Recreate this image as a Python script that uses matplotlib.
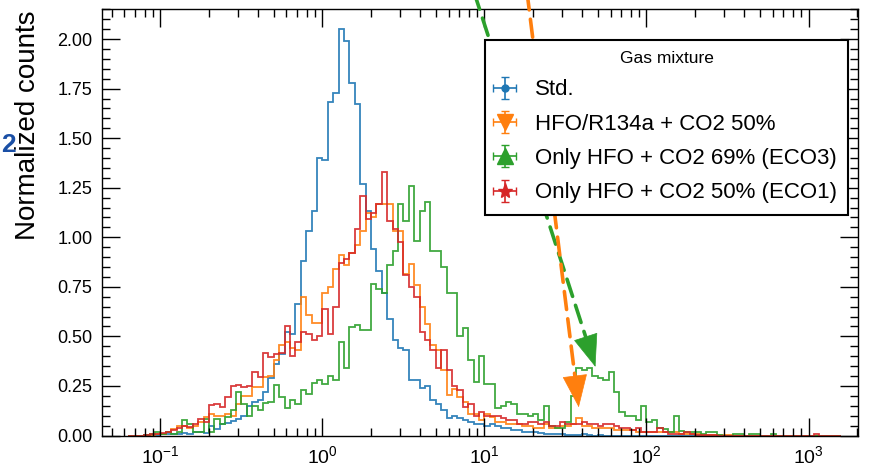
import numpy as np
import matplotlib
matplotlib.use("Agg")
import matplotlib.pyplot as plt
from matplotlib.ticker import LogLocator, LogFormatterSciNotation, MultipleLocator

# --- datos: histogramas normalizados, 30 bins por decada, primer borde 10^(-36/30) ---
BINS_PER_DECADE = 30
FIRST_EDGE_K = -36

std = [
    0, 0, 0, 0.005, 0.005, 0.005, 0.01, 0.01, 0.01, 0.01,
    0.015, 0.01, 0.02, 0.02, 0.015, 0.05, 0.035, 0.06, 0.065, 0.075,
    0.085, 0.10, 0.15, 0.17, 0.18, 0.22, 0.29, 0.36, 0.41, 0.52,
    0.51, 0.665, 0.88, 1.03, 1.13, 1.40, 1.39, 1.68, 1.73, 2.05,
    1.99, 1.78, 1.67, 1.27, 1.13, 0.94, 0.83, 0.72, 0.59, 0.48,
    0.44, 0.43, 0.28, 0.28, 0.24, 0.25, 0.18, 0.16, 0.13, 0.09,
    0.10, 0.09, 0.08, 0.07, 0.06, 0.06, 0.05, 0.06, 0.05, 0.04,
    0.04, 0.03, 0.03, 0.02, 0.02, 0.02, 0.015, 0.01, 0.01, 0.01,
    0.01, 0.005, 0.005, 0.005, 0.01, 0.005, 0, 0.005, 0, 0,
    0, 0, 0, 0, 0, 0, 0, 0, 0, 0,
    0, 0, 0, 0, 0, 0, 0, 0, 0, 0,
    0, 0, 0, 0, 0, 0, 0, 0, 0, 0,
    0, 0, 0, 0, 0, 0, 0, 0, 0, 0,
    0, 0,
]

hfo_r134a = [
    0, 0, 0, 0, 0.005, 0.01, 0.01, 0.02, 0.035, 0.05,
    0.05, 0.04, 0.05, 0.07, 0.095, 0.11, 0.10, 0.10, 0.11, 0.10,
    0.16, 0.20, 0.20, 0.245, 0.245, 0.295, 0.30, 0.38, 0.455, 0.47,
    0.44, 0.43, 0.70, 0.61, 0.57, 0.57, 0.72, 0.75, 0.84, 0.91,
    0.86, 0.92, 0.96, 1.03, 1.12, 1.10, 1.17, 1.17, 1.17, 1.03,
    1.03, 0.815, 0.866, 0.757, 0.648, 0.56, 0.455, 0.43, 0.33, 0.204,
    0.237, 0.196, 0.17, 0.11, 0.11, 0.08, 0.11, 0.095, 0.07, 0.07,
    0.06, 0.06, 0.06, 0.05, 0.05, 0.04, 0.04, 0.06, 0.04, 0.04,
    0.05, 0.05, 0.06, 0.09, 0.05, 0.05, 0.04, 0.04, 0.036, 0.036,
    0.03, 0.03, 0.028, 0.028, 0.02, 0.02, 0.02, 0.02, 0.016, 0.016,
    0.016, 0.016, 0.01, 0.01, 0.008, 0.008, 0.005, 0.005, 0.005, 0.005,
    0.003, 0.003, 0, 0, 0, 0, 0, 0, 0, 0,
    0, 0, 0, 0, 0, 0, 0, 0, 0, 0,
    0, 0,
]

eco3 = [
    0, 0, 0, 0.005, 0.01, 0.02, 0.01, 0.02, 0.01, 0.02,
    0.078, 0.06, 0.02, 0.02, 0.085, 0.02, 0.085, 0.06, 0.095, 0.128,
    0.22, 0.16, 0.10, 0.15, 0.128, 0.165, 0.17, 0.253, 0.195, 0.14,
    0.18, 0.16, 0.23, 0.21, 0.266, 0.28, 0.26, 0.30, 0.28, 0.47,
    0.34, 0.548, 0.556, 0.53, 0.53, 0.765, 0.74, 0.72, 0.86, 0.93,
    1.17, 1.08, 1.26, 0.98, 1.13, 1.18, 0.93, 0.93, 0.85, 0.72,
    0.72, 0.50, 0.54, 0.38, 0.27, 0.40, 0.26, 0.26, 0.14, 0.15,
    0.17, 0.16, 0.11, 0.11, 0.10, 0.11, 0.078, 0.148, 0.05, 0.04,
    0.04, 0.07, 0.20, 0.34, 0.33, 0.34, 0.30, 0.29, 0.28, 0.32,
    0.22, 0.12, 0.10, 0.10, 0.08, 0.15, 0.07, 0.08, 0.04, 0.035,
    0.02, 0.10, 0.023, 0.02, 0.02, 0.02, 0.01, 0.02, 0.02, 0.005,
    0, 0, 0.01, 0.01, 0, 0.01, 0.01, 0, 0, 0.01,
    0, 0, 0, 0, 0, 0, 0, 0, 0, 0,
    0, 0,
]

eco1 = [
    0, 0, 0, 0.005, 0.01, 0.01, 0.015, 0.02, 0.03, 0.04,
    0.05, 0.045, 0.06, 0.085, 0.07, 0.155, 0.16, 0.145, 0.195, 0.25,
    0.255, 0.245, 0.25, 0.32, 0.295, 0.415, 0.395, 0.41, 0.415, 0.55,
    0.40, 0.47, 0.52, 0.51, 0.48, 0.50, 0.64, 0.51, 0.65, 0.87,
    0.89, 0.92, 1.04, 1.21, 1.09, 1.12, 1.17, 1.33, 1.08, 1.04,
    0.975, 0.81, 0.75, 0.70, 0.52, 0.48, 0.43, 0.34, 0.43, 0.33,
    0.25, 0.23, 0.145, 0.16, 0.10, 0.12, 0.10, 0.10, 0.10, 0.09,
    0.08, 0.08, 0.06, 0.06, 0.07, 0.07, 0.06, 0.07, 0.05, 0.05,
    0.07, 0.06, 0.06, 0.06, 0.07, 0.06, 0.06, 0.05, 0.06, 0.06,
    0.05, 0.036, 0.036, 0.03, 0.036, 0.02, 0.02, 0.02, 0.036, 0.02,
    0.01, 0.01, 0.01, 0.02, 0.01, 0.005, 0.005, 0.005, 0.005, 0,
    0, 0, 0, 0, 0, 0, 0, 0, 0, 0,
    0, 0, 0, 0, 0, 0, 0, 0.01, 0, 0,
    0, 0,
]

labels = ["Std.", "HFO/R134a + CO2 50%", "Only HFO + CO2 69% (ECO3)", "Only HFO + CO2 50% (ECO1)"]
colors = ["#1f77b4", "#ff7f0e", "#2ca02c", "#d62728"]
markers = ["o", "v", "^", "*"]
marker_sizes = [5, 11, 11, 11]

x_limits = (0.0436, 2020)
y_limits = (0, 2.15)

# flechas de la diapositiva: punta en datos, origen en pixeles de figura (fuera, arriba)
arrow_green_tip = (48.4, 0.346)
arrow_orange_tip = (38.2, 0.142)
arrow_green_start = (474, 475)
arrow_orange_start = (527, 475)

plt.rcParams["font.family"] = ["Liberation Sans", "DejaVu Sans"]

fig = plt.figure(figsize=(8.73, 4.67), dpi=100)
ax = fig.add_axes([102 / 873, 1 - 435.5 / 467, 756 / 873, 426.2 / 467])

edges = 10.0 ** (np.arange(FIRST_EDGE_K, FIRST_EDGE_K + len(std) + 1) / BINS_PER_DECADE)
for vals, c in zip([std, hfo_r134a, eco3, eco1], colors):
    ax.stairs(vals, edges, color=c, lw=1.3, alpha=0.9)

# entradas de leyenda tipo errorbar
handles = []
for c, m, ms in zip(colors, markers, marker_sizes):
    h = ax.errorbar([np.nan], [np.nan], yerr=[0.1], xerr=[0.1], fmt=m, color=c,
                    ms=ms, capsize=3, elinewidth=1.2)
    handles.append(h)

ax.set_xscale("log")
ax.set_xlim(*x_limits)
ax.set_ylim(*y_limits)

ax.xaxis.set_major_locator(LogLocator(base=10, numticks=20))
ax.xaxis.set_minor_locator(LogLocator(base=10, subs=np.arange(2, 10), numticks=20))
ax.xaxis.set_major_formatter(LogFormatterSciNotation())
ax.yaxis.set_major_locator(MultipleLocator(0.25))
ax.yaxis.set_minor_locator(MultipleLocator(0.05))
ax.yaxis.set_major_formatter(matplotlib.ticker.FormatStrFormatter("%.2f"))

ax.tick_params(which="both", direction="in", top=True, right=True, labelsize=13, width=1.0)
ax.tick_params(axis="x", labelsize=14)
ax.tick_params(which="major", length=13)
ax.tick_params(which="minor", length=6)
ax.tick_params(axis="x", pad=7)
ax.tick_params(axis="y", pad=7)
for s in ax.spines.values():
    s.set_linewidth(1.0)

leg = ax.legend(handles, labels, title="Gas mixture", loc="upper right",
                bbox_to_anchor=(0.987, 0.928), borderaxespad=0, fontsize=16,
                title_fontsize=12.5, frameon=True, fancybox=False, framealpha=1,
                edgecolor="black", handlelength=0.75, handletextpad=1.0,
                labelspacing=0.6, borderpad=0.5)
leg.get_frame().set_linewidth(1.5)

fig.text(28 / 873, 1 - 125 / 467, "Normalized counts", rotation=90, ha="center",
         va="center", fontsize=20)
fig.text(1 / 873, 1 - 145 / 467, "2", ha="left", va="center", fontsize=19,
         fontweight="bold", color="#1a4fa5")

# flechas: linea discontinua + punta solida
HEAD_LEN_PT = 22
for tip, start_px, c in [(arrow_green_tip, arrow_green_start, "#2ca02c"),
                         (arrow_orange_tip, arrow_orange_start, "#ff7f0e")]:
    tip_px = ax.transData.transform(tip)
    start = np.array(start_px, dtype=float)
    d = (tip_px - start) / np.hypot(*(tip_px - start))
    head_len_px = HEAD_LEN_PT * fig.dpi / 72
    base = tip_px - d * head_len_px
    ax.annotate("", xy=base, xycoords="figure pixels", xytext=start, textcoords="figure pixels",
                annotation_clip=False,
                arrowprops=dict(arrowstyle="-", color=c, lw=2.6,
                                linestyle=(0, (5.0, 2.6)), shrinkA=0, shrinkB=0))
    ax.annotate("", xy=tip_px, xycoords="figure pixels", xytext=base - d * 1.0,
                textcoords="figure pixels", annotation_clip=False,
                arrowprops=dict(arrowstyle="-|>,head_length=%.2f,head_width=0.42" % (HEAD_LEN_PT / 20),
                                mutation_scale=20, color=c, lw=0.5, shrinkA=0, shrinkB=0))

fig.savefig("out.png", dpi=100)
